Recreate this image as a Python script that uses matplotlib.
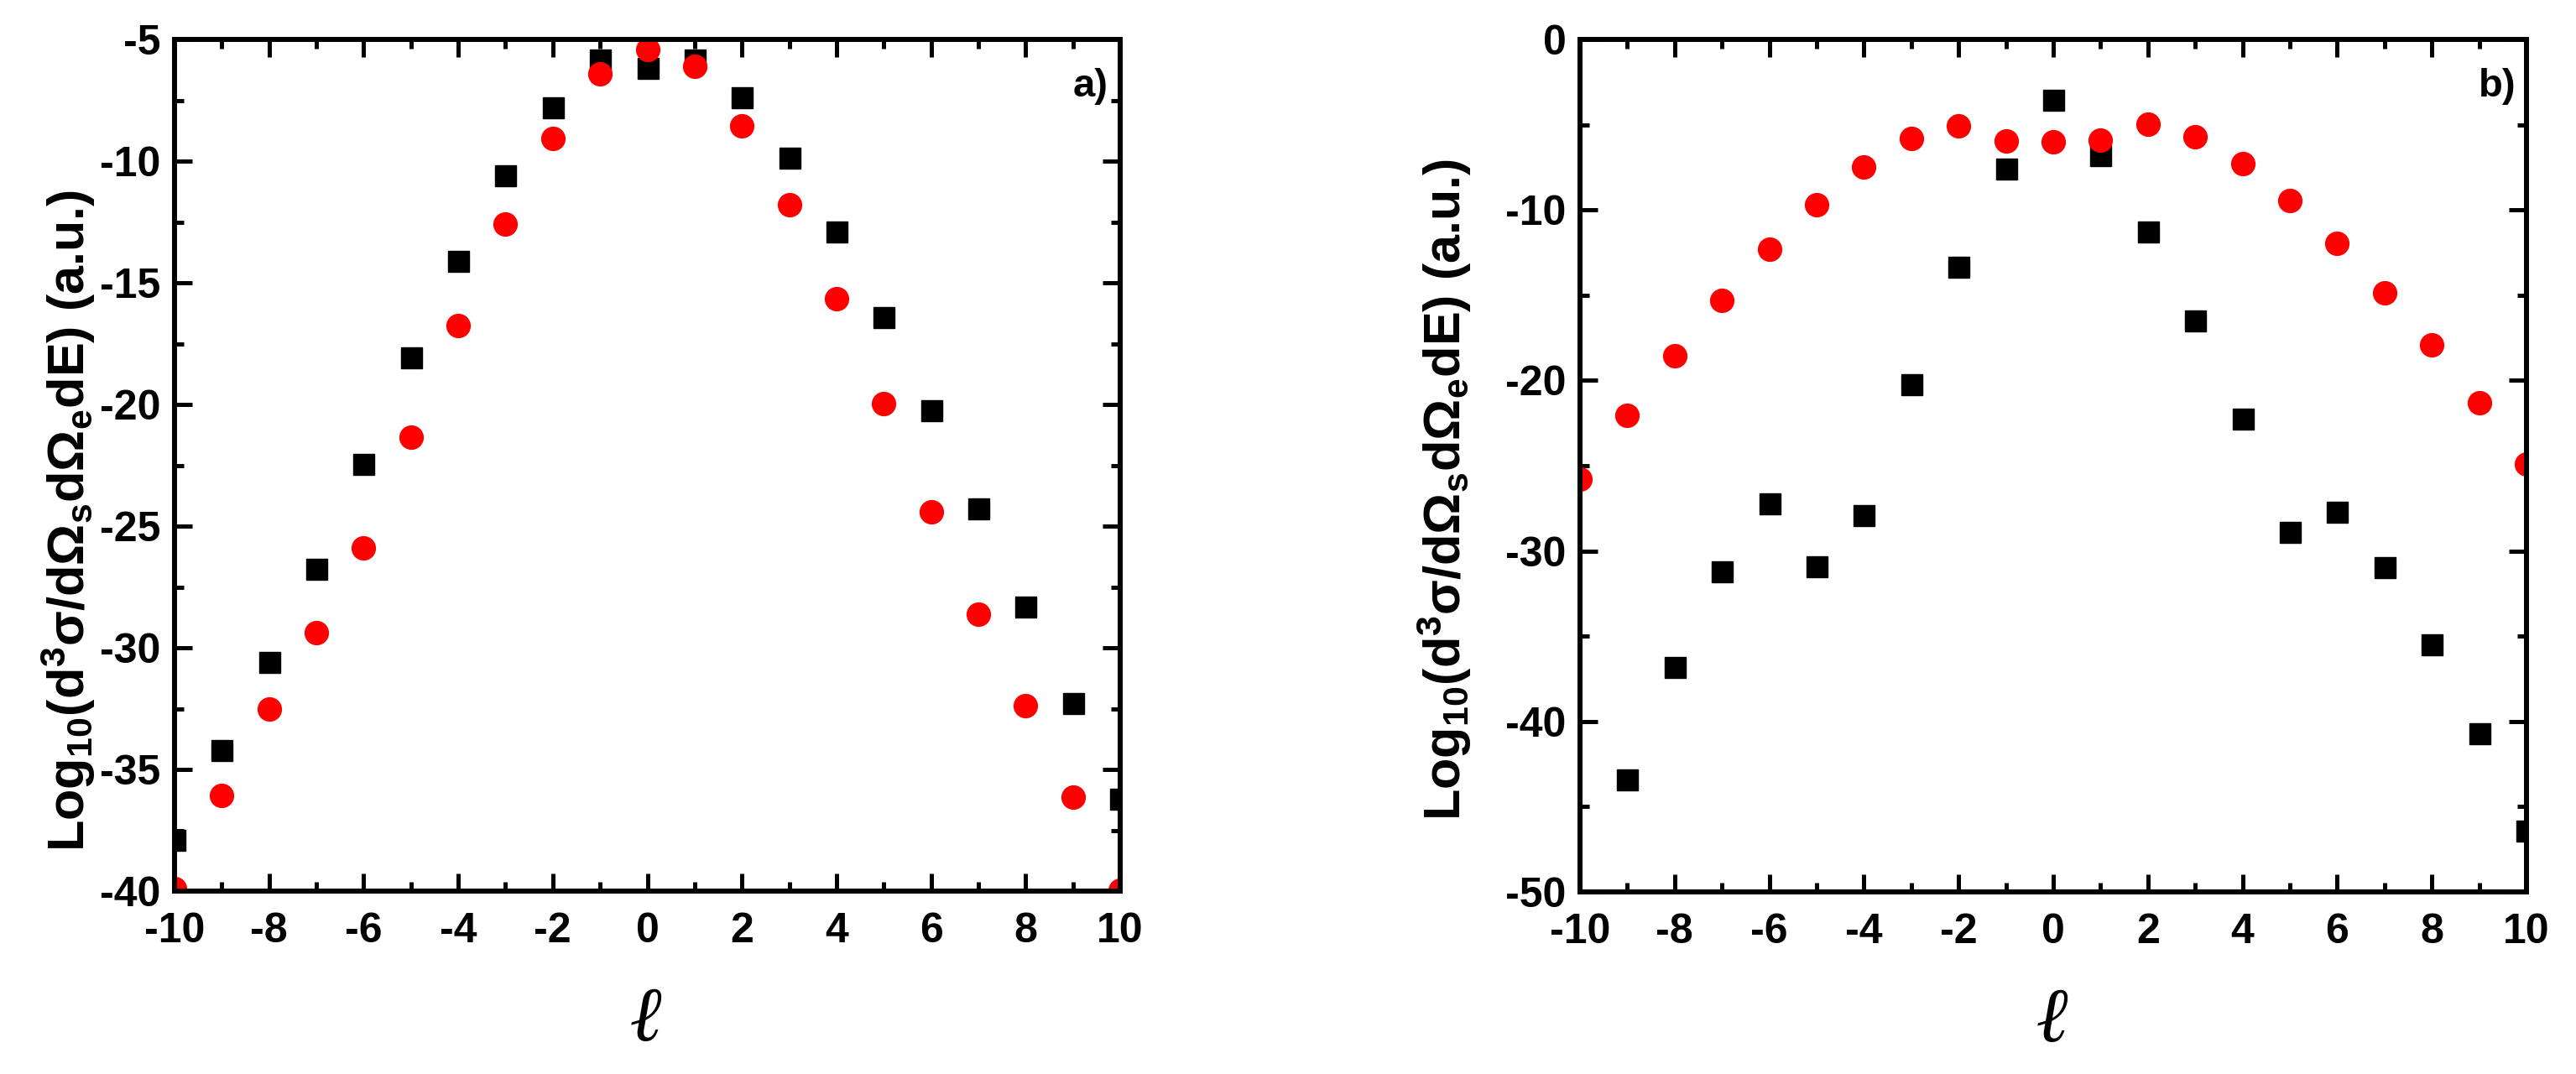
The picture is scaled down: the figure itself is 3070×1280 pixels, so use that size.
import numpy as np
import matplotlib
matplotlib.use("Agg")
from matplotlib import pyplot as plt
from matplotlib.ticker import MultipleLocator

plt.rcParams["font.family"] = ["Liberation Sans Narrow", "Liberation Sans", "DejaVu Sans"]
plt.rcParams["font.weight"] = "bold"
plt.rcParams["axes.unicode_minus"] = False
plt.rcParams["mathtext.fontset"] = "custom"
plt.rcParams["mathtext.rm"] = "Liberation Sans:bold"
plt.rcParams["mathtext.it"] = "Liberation Sans:bold"
plt.rcParams["mathtext.bf"] = "Liberation Sans:bold"
plt.rcParams["mathtext.default"] = "rm"

# panel a)
l_a = list(range(-10, 11))
black_a = [-37.9, -34.2, -30.6, -26.75, -22.46, -18.08, -14.1, -10.6, -7.8, -5.84, -6.18,
           -5.84, -7.39, -9.86, -12.9, -16.42, -20.24, -24.28, -28.32, -32.28, -36.2]
red_a = [-39.9, -36.07, -32.5, -29.39, -25.9, -21.36, -16.76, -12.58, -9.07, -6.4, -5.42,
         -6.12, -8.56, -11.79, -15.67, -19.96, -24.42, -28.63, -32.39, -36.15, -39.95]

# panel b)
l_b_black = list(range(-9, 11))
black_b = [-43.4, -36.8, -31.2, -27.2, -30.9, -27.9, -20.25, -13.35, -7.6, -3.53,
           -6.8, -11.27, -16.5, -22.25, -28.9, -27.7, -30.95, -35.5, -40.7, -46.4]
l_b_red = list(range(-10, 11))
red_b = [-25.8, -22.05, -18.55, -15.3, -12.3, -9.7, -7.46, -5.8, -5.05, -5.97, -6.0,
         -5.93, -4.97, -5.7, -7.3, -9.46, -11.95, -14.84, -17.92, -21.33, -24.9]

ylab = r"Log$_{10}$(d$^3$σ/dΩ$_s$dΩ$_e$dE) (a.u.)"

fig = plt.figure(figsize=(30.7, 12.8), dpi=100)
ax1 = fig.add_axes([208/3070, 1-1062/1280, 1127/3070, 1015/1280])
ax2 = fig.add_axes([1883/3070, 1-1063/1280, 1128/3070, 1016/1280])


def style(ax, ylim, ymaj, ymin, tag, ylab_xy):
    ax.set_xlim(-10, 10)
    ax.set_ylim(*ylim)
    ax.xaxis.set_major_locator(MultipleLocator(2))
    ax.xaxis.set_minor_locator(MultipleLocator(1))
    ax.yaxis.set_major_locator(MultipleLocator(ymaj))
    ax.yaxis.set_minor_locator(MultipleLocator(ymin))
    ax.tick_params(which="both", direction="in", top=True, right=True, width=3.6)
    ax.tick_params(which="major", length=15, labelsize=36)
    ax.tick_params(which="minor", length=8)
    ax.tick_params(axis="x", pad=18)
    ax.tick_params(axis="y", pad=12)
    for s in ax.spines.values():
        s.set_linewidth(4.3)
    ax.set_ylabel(ylab, fontsize=44, fontweight="bold",
                  family=["Liberation Sans", "DejaVu Sans"])
    ax.yaxis.set_label_coords(*ylab_xy)
    ax.set_xlabel("ℓ", fontsize=66, style="italic", fontweight="bold",
                  family=["Liberation Serif", "DejaVu Serif"], labelpad=32)
    ax.text(0.969, 0.945, tag, transform=ax.transAxes, ha="center", va="center",
            fontsize=34, fontweight="bold")


ax1.plot(l_a, black_a, "s", color="black", ms=18, ls="none")
ax1.plot(l_a, red_a, "o", color="red", ms=20, ls="none")
style(ax1, (-40, -5), 5, 2.5, "a)", (-0.082, 0.435))

ax2.plot(l_b_black, black_b, "s", color="black", ms=18, ls="none")
ax2.plot(l_b_red, red_b, "o", color="red", ms=20, ls="none")
style(ax2, (-50, 0), 10, 5, "b)", (-0.113, 0.472))

fig.savefig("out.png", dpi=100)
